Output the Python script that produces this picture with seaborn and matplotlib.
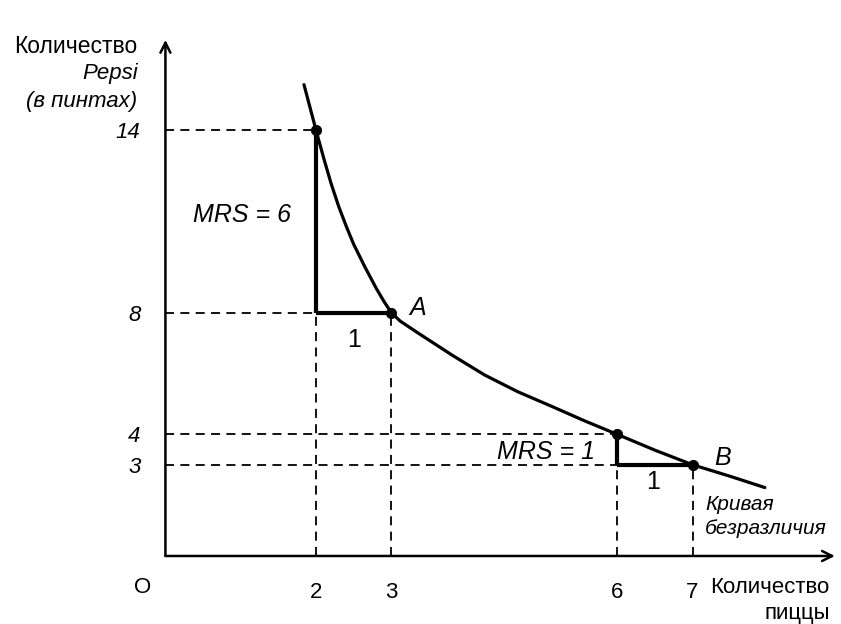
import matplotlib
matplotlib.use("Agg")
import matplotlib.pyplot as plt
import numpy as np
import pandas as pd
import seaborn as sns

sns.set_theme(style="white")
plt.rcParams["font.family"] = ["Liberation Sans", "DejaVu Sans"]
plt.rcParams.update({"text.color": "black", "xtick.color": "black", "ytick.color": "black"})

# indifference curve, points
curve_x = [1.84, 2.0, 2.1, 2.2, 2.3, 2.4, 2.5, 2.65, 2.8, 2.9, 3.0, 3.12, 3.35,
           3.81, 4.24, 4.68, 5.13, 5.57, 6.0, 6.5, 7.0, 7.5, 7.96]
curve_y = [15.5, 14.0, 13.1, 12.25, 11.5, 10.85, 10.25, 9.5, 8.8, 8.38, 8.0, 7.72, 7.34,
           6.6, 5.95, 5.4, 4.92, 4.44, 4.0, 3.48, 3.0, 2.62, 2.25]

# marked bundles
pts_x = [2, 3, 6, 7]
pts_y = [14, 8, 4, 3]

x_ticks = [2, 3, 6, 7]
y_ticks = [3, 4, 8, 14]

# MRS triangles: (x_left, x_right, y_low, y_high)
triangles = [(2, 3, 8, 14), (6, 7, 3, 4)]

fig = plt.figure(figsize=(8.41, 6.24), dpi=100)
ax = fig.add_axes([0.1967, 0.109, 0.796, 0.827])
ax.set_xlim(0, 8.89)
ax.set_ylim(0, 16.97)

curve = pd.DataFrame({"x": curve_x, "y": curve_y})
sns.lineplot(data=curve, x="x", y="y", sort=False, color="black", lw=2.3, ax=ax,
             solid_joinstyle="round", solid_capstyle="round")

# dashed guide lines
dash = dict(color="black", lw=1.3, ls=(0, (5, 3.5)))
for px, py in zip(pts_x, pts_y):
    ax.plot([0, px], [py, py], **dash)
for (x0, x1, y0, y1) in triangles:
    ax.plot([x0, x0], [0, y0], **dash)
    ax.plot([x1, x1], [0, y0], **dash)
    # thick triangle legs
    ax.plot([x0, x0], [y0, y1], color="black", lw=3, solid_capstyle="butt")
    ax.plot([x0, x1], [y0, y0], color="black", lw=3, solid_capstyle="butt")

pts = pd.DataFrame({"x": pts_x, "y": pts_y})
sns.scatterplot(data=pts, x="x", y="y", color="black", s=55, ax=ax, zorder=5, edgecolor="black")

# axes with arrows
for s in ax.spines.values():
    s.set_visible(False)
arrow = dict(arrowstyle="->", lw=1.8, color="black", shrinkA=0, shrinkB=0, mutation_scale=18)
ax.annotate("", xy=(1.0, 0), xytext=(0, 0), xycoords="axes fraction", arrowprops=arrow)
ax.annotate("", xy=(0, 1.0), xytext=(0, 0), xycoords="axes fraction", arrowprops=arrow)

ax.set_xticks(x_ticks)
ax.set_xticklabels([str(v) for v in x_ticks], fontsize=16)
ax.set_yticks(y_ticks)
ax.set_yticklabels([str(v) for v in y_ticks], fontsize=16, style="italic")
ax.tick_params(axis="x", length=0, pad=19)
ax.tick_params(axis="y", length=0, pad=18)
ax.set_xlabel("")
ax.set_ylabel("")
ax.grid(False)

ax.text(-0.3, -1.05, "O", fontsize=16, ha="center", va="center", clip_on=False)

# axis titles
ax.text(-0.37, 16.75, "Количество", fontsize=16.5, ha="right", va="center", clip_on=False)
ax.text(-0.37, 15.85, "Pepsi", fontsize=16, ha="right", va="center", style="italic", clip_on=False)
ax.text(-0.37, 14.95, "(в пинтах)", fontsize=16, ha="right", va="center", style="italic",
        clip_on=False)
ax.text(8.82, -1.05, "Количество", fontsize=16, ha="right", va="center", clip_on=False)
ax.text(8.82, -1.88, "пиццы", fontsize=16, ha="right", va="center", clip_on=False)

# annotations
ax.text(1.02, 11.2, "MRS = 6", fontsize=18, style="italic", ha="center", va="center")
ax.text(2.51, 7.1, "1", fontsize=18, ha="center", va="center")
ax.text(3.35, 8.15, "A", fontsize=18, style="italic", ha="center", va="center")
ax.text(5.71, 3.42, "MRS = 1", fontsize=18, style="italic", ha="right", va="center")
ax.text(6.47, 2.43, "1", fontsize=18, ha="center", va="center")
ax.text(7.4, 3.22, "B", fontsize=18, style="italic", ha="center", va="center")
ax.text(7.17, 1.68, "Кривая", fontsize=15, style="italic", ha="left", va="center")
ax.text(7.17, 0.92, "безразличия", fontsize=15, style="italic", ha="left", va="center")

fig.savefig("out.png", dpi=100)
